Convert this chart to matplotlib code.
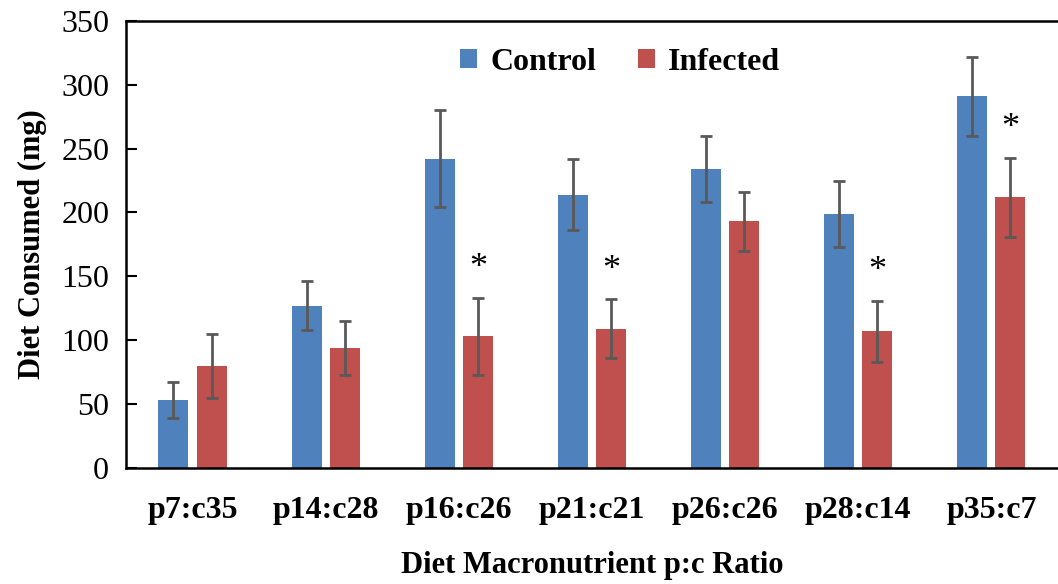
import numpy as np
import matplotlib.pyplot as plt

plt.rcParams['font.family'] = ['Liberation Serif', 'DejaVu Serif']

diets = ['p7:c35', 'p14:c28', 'p16:c26', 'p21:c21', 'p26:c26', 'p28:c14', 'p35:c7']
control = [53, 127, 242, 214, 234, 199, 291]
control_err = [14, 19, 38, 28, 26, 26, 31]
infected = [80, 94, 103, 109, 193, 107, 212]
infected_err = [25, 21, 30, 23, 23, 24, 31]
signif = [False, False, True, True, False, True, True]

fig = plt.figure(figsize=(10.58, 5.84), dpi=100)
ax = fig.add_axes([0.119, 0.199, 0.881, 0.765])

x = np.arange(len(diets))
w = 0.225
off = 0.143
errkw = dict(ecolor='#595959', elinewidth=2, capsize=4.5, capthick=2)

ax.bar(x - off, control, w, yerr=control_err, color='#4f81bd', label='Control',
       error_kw=errkw)
ax.bar(x + off, infected, w, yerr=infected_err, color='#c0504d', label='Infected',
       error_kw=errkw)

# asterisks over the infected bars that differ from control
for i, s in enumerate(signif):
    if s:
        ax.text(x[i] + off, infected[i] + infected_err[i] + 10, '*',
                ha='center', va='bottom', fontsize=26)

ax.set_xlim(-0.5, len(diets) - 0.5)
ax.set_ylim(0, 350)
ax.set_yticks(range(0, 351, 50))
ax.set_xticks(x)
ax.set_xticklabels(diets, fontweight='bold', fontsize=23)
ax.tick_params(axis='y', direction='in', length=8, width=1.5, labelsize=23, pad=12)
ax.tick_params(axis='x', length=0, pad=20)
ax.spines['right'].set_visible(False)
for sp in ax.spines.values():
    sp.set_linewidth(1.8)

ax.set_ylabel('Diet Consumed (mg)', fontweight='bold', fontsize=22, labelpad=10)
ax.set_xlabel('Diet Macronutrient p:c Ratio', fontweight='bold', fontsize=22, labelpad=19)

ax.legend(loc='upper center', ncol=2, frameon=False, bbox_to_anchor=(0.53, 1.005),
          prop={'weight': 'bold', 'size': 23}, handlelength=0.55, handleheight=0.55,
          handletextpad=0.4, columnspacing=1.3)

fig.savefig('out.png', dpi=100)
